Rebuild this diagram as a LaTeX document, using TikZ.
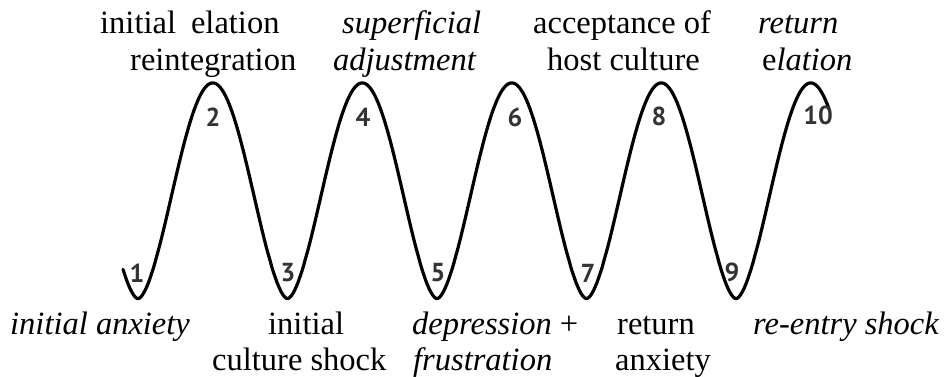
\documentclass[tikz,border=0pt]{standalone}
\usepackage{fontspec}
\setmainfont{Liberation Serif}
\newfontfamily\numfont{PT Sans}
\begin{document}
\begin{tikzpicture}[x=1pt,y=-1pt,
  lbl/.style={anchor=base west,inner sep=0pt,font=\fontsize{32.5}{37.5}\selectfont},
  ilbl/.style={lbl,font=\fontsize{32.5}{37.5}\selectfont\itshape},
  num/.style={anchor=center,inner sep=0pt,text=black!80,font=\numfont\bfseries\fontsize{26}{26}\selectfont},
  wave/.style={line width=3.2pt,line join=round,line cap=round}]
\useasboundingbox (0,0) rectangle (947,377);
% the wave
\draw[wave] plot[domain=123:829,samples=400]
  (\x,{299-216*pow((1-cos(2.408027*(\x-138)))/2+0.0005,0.85)});
% numbers
\node[num] (n1) at (137,273) {1};
\node[num] (n2) at (213,117) {2};
\node[num] (n3) at (288,273) {3};
\node[num] (n4) at (363,117) {4};
\node[num] (n5) at (438,273) {5};
\node[num] (n6) at (515,117) {6};
\node[num] (n7) at (588,273) {7};
\node[num] (n8) at (659,116) {8};
\node[num] (n9) at (732,272) {9};
\node[num] (n10) at (818,115) {10};
% top labels
\node[lbl]  (t2a) at (100,34) {initial\hspace{15pt}elation};
\node[lbl]  (t2b) at (130,71) {reintegration};
\node[ilbl] (t4a) at (342,34) {superficial};
\node[ilbl] (t4b) at (333,71) {adjustment};
\node[lbl]  (t6a) at (533,34) {acceptance of};
\node[lbl]  (t6b) at (547,71) {host culture};
\node[ilbl] (t10a) at (758,34) {return};
\node[lbl]  (t10b) at (762,71) {e\textit{lation}};
% bottom labels
\node[ilbl] (b1a) at (10,334) {initial anxiety};
\node[lbl]  (b3a) at (268,334) {initial};
\node[lbl]  (b3b) at (212,370) {culture shock};
\node[lbl]  (b5a) at (412,334) {\textit{depression} +};
\node[ilbl] (b5b) at (413,370) {frustration};
\node[lbl]  (b7a) at (617,334) {return};
\node[lbl]  (b7b) at (615,370) {anxiety};
\node[ilbl] (b9a) at (753,334) {re-entry shock};
\end{tikzpicture}
\end{document}
